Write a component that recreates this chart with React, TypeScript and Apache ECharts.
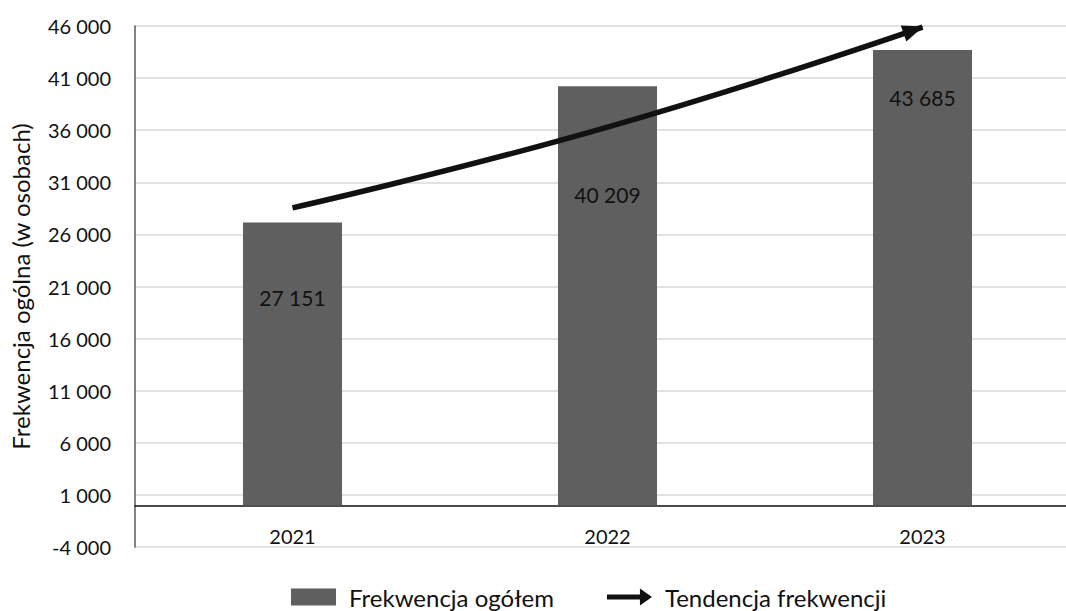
import React, { useEffect, useRef } from "react";
import * as echarts from "echarts";

const years = ["2021", "2022", "2023"];
const attendance = [27151, 40209, 43685];
const trend = [28550, 36300, 45900];
const yMin = -4000;
const yMax = 46000;
const yStep = 5000;

const FONT = "Lato, 'Open Sans', sans-serif";
const labelDistances = [65, 98, 37];

const fmt = (v: number) => {
  const neg = v < 0;
  const s = Math.abs(Math.round(v)).toString().replace(/\B(?=(\d{3})+(?!\d))/g, " ");
  return (neg ? "-" : "") + s;
};

export default function App() {
  const ref = useRef<HTMLDivElement>(null);
  useEffect(() => {
    const chart = echarts.init(ref.current!, undefined, { renderer: "svg" });
    chart.setOption({
      animation: false,
      backgroundColor: "#ffffff",
      textStyle: { fontFamily: FONT },
      grid: {
        left: 135,
        top: 26,
        width: 945,
        height: 521,
        containLabel: false,
        outerBoundsMode: "none",
      },
      legend: {
        left: 286,
        top: 580,
        itemGap: 53,
        itemWidth: 45,
        itemHeight: 17,
        textStyle: { fontFamily: FONT, fontSize: 24, color: "#111", padding: [0, 0, 0, 8] },
        data: [
          { name: "Frekwencja ogółem", icon: "rect" },
          {
            name: "Tendencja frekwencji",
            icon: "path://M0,6 L33,6 L33,0 L45,8.5 L33,17 L33,11 L0,11 Z",
            itemStyle: { color: "#111" },
          },
        ],
      },
      xAxis: {
        type: "category",
        data: years,
        axisLine: { onZero: true, lineStyle: { color: "#111", width: 1.5 } },
        axisTick: { show: false },
        axisLabel: { fontFamily: FONT, fontSize: 20, color: "#111", margin: -21 },
      },
      yAxis: {
        type: "value",
        min: yMin,
        max: yMax,
        interval: yStep,
        name: "Frekwencja ogólna (w osobach)",
        nameLocation: "middle",
        nameGap: 103,
        nameRotate: 90,
        nameTextStyle: { fontFamily: FONT, fontSize: 24, color: "#111" },
        axisLine: { show: true, lineStyle: { color: "#595959", width: 1.5 } },
        axisTick: { show: false },
        axisLabel: { fontFamily: FONT, fontSize: 20, color: "#111", margin: 24, formatter: (v: number) => fmt(v) },
        splitLine: { lineStyle: { color: "#d9d9d9", width: 1.5 } },
      },
      series: [
        {
          name: "Frekwencja ogółem",
          type: "bar",
          barWidth: 99,
          itemStyle: { color: "#5f5f5f" },
          data: attendance.map((v, i) => ({
            value: v,
            label: {
              show: true,
              position: "insideTop",
              distance: labelDistances[i],
              formatter: (p: any) => fmt(p.value),
              fontFamily: FONT,
              fontSize: 21,
              color: "#111",
            },
          })),
          z: 2,
        },
        {
          name: "Tendencja frekwencji",
          type: "line",
          smooth: true,
          symbol: "none",
          lineStyle: { color: "#111", width: 5.5 },
          itemStyle: { color: "#111" },
          data: trend.map((v, i) =>
            i === trend.length - 1
              ? {
                  value: v,
                  symbol: "triangle",
                  symbolSize: [17, 21],
                  symbolRotate: -71,
                  symbolOffset: [-9, 3],
                }
              : { value: v }
          ),
          z: 5,
        },
      ],
    });
    return () => chart.dispose();
  }, []);
  return (
    <div
      ref={ref}
      style={{ position: "fixed", left: 0, top: 0, width: 1066, height: 611 }}
    />
  );
}
